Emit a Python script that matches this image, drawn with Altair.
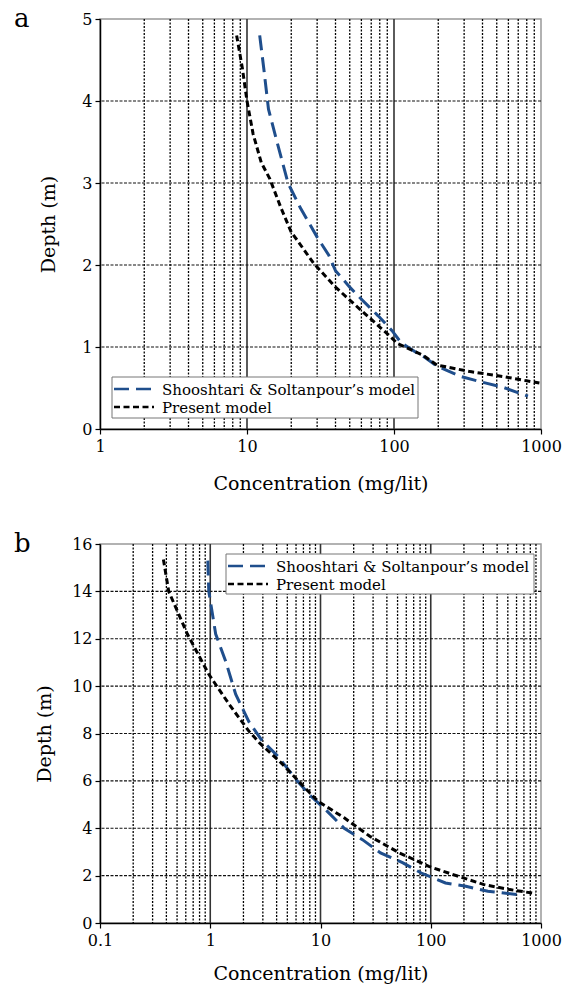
import altair as alt
import pandas as pd

SERIES = ["Shooshtari & Soltanpour\u2019s model", "Present model"]
COLORS = ["#1f4e8c", "#000000"]
DASHES = [[15, 7], [6, 3.5]]
FONT = "DejaVu Serif"

# ---- panel a ----
a_blue_conc = [12.2, 13.0, 14.0, 16.0, 19.0, 23.0, 30.0, 36.0, 40.0, 50.0, 61.0, 78.0, 97.0, 112.0, 140.0, 160.0, 195.0, 285.0, 400.0, 550.0, 815.0]
a_blue_depth = [4.8, 4.4, 3.9, 3.5, 3.0, 2.7, 2.34, 2.12, 1.93, 1.73, 1.57, 1.38, 1.2, 1.05, 0.94, 0.88, 0.77, 0.64, 0.57, 0.51, 0.40]
a_black_conc = [8.5, 9.3, 10.0, 11.0, 12.5, 14.3, 17.0, 20.0, 22.0, 28.4, 40.0, 63.0, 89.0, 106.0, 157.0, 196.0, 330.0, 550.0, 975.0]
a_black_depth = [4.8, 4.4, 4.0, 3.6, 3.25, 3.05, 2.7, 2.4, 2.3, 2.02, 1.73, 1.41, 1.17, 1.04, 0.9, 0.78, 0.70, 0.64, 0.56]

# ---- panel b ----
b_blue_conc = [0.95, 0.97, 1.12, 1.38, 1.7, 2.24, 2.9, 4.1, 6.0, 8.2, 11.1, 16.4, 24.0, 35.0, 56.0, 82.0, 136.0, 208.0, 330.0, 611.0]
b_blue_depth = [15.3, 14.0, 12.2, 11.05, 9.66, 8.5, 7.75, 7.04, 6.06, 5.35, 4.79, 4.0, 3.52, 2.96, 2.54, 2.11, 1.69, 1.55, 1.34, 1.2]
b_black_conc = [0.376, 0.42, 0.62, 0.97, 1.48, 2.24, 2.8, 4.4, 7.0, 9.5, 16.4, 28.0, 52.0, 96.0, 178.0, 305.0, 523.0, 897.0]
b_black_depth = [15.35, 14.0, 12.2, 10.5, 9.24, 8.1, 7.6, 6.76, 5.77, 5.14, 4.44, 3.66, 2.96, 2.39, 1.97, 1.62, 1.41, 1.24]

a_xticks = [1, 10, 100, 1000]
a_yticks = [0, 1, 2, 3, 4, 5]
b_xticks = [0.1, 1, 10, 100, 1000]
b_yticks = [0, 2, 4, 6, 8, 10, 12, 14, 16]


def minor_of(decades):
    return [m * d for d in decades for m in range(2, 10)]


def legend_layers(lx, ly, lw, lh):
    one = pd.DataFrame({"k": [0]})
    box = alt.Chart(one).mark_rect(fill="white", stroke="#777", strokeWidth=1).encode(
        x=alt.value(lx), x2=alt.value(lx + lw), y=alt.value(ly), y2=alt.value(ly + lh))
    layers = [box]
    row_h = 18
    for i, name in enumerate(SERIES):
        cy = ly + 12 + i * row_h
        layers.append(alt.Chart(one).mark_rule(color=COLORS[i], strokeWidth=2.5,
                                               strokeDash=DASHES[i], strokeCap="butt").encode(
            x=alt.value(lx + 2), x2=alt.value(lx + 42), y=alt.value(cy)))
        layers.append(alt.Chart(pd.DataFrame({"t": [name]})).mark_text(
            font=FONT, fontSize=15, align="left", baseline="middle", color="black").encode(
            text="t:N", x=alt.value(lx + 50), y=alt.value(cy + 1)))
    return layers


def panel(bc, bd, kc, kd, xticks, yticks, letter, leg, w, h, ytitlepad, xtitlepad):
    lines = pd.DataFrame({
        "conc": bc + kc,
        "depth": bd + kd,
        "series": [SERIES[0]] * len(bc) + [SERIES[1]] * len(kc),
        "idx": list(range(len(bc))) + list(range(len(kc))),
    })
    decades = xticks[:-1]
    minor = pd.DataFrame({"conc": minor_of(decades)})
    major = pd.DataFrame({"conc": xticks[1:-1]})
    hgrid = pd.DataFrame({"depth": yticks[1:-1]})

    xs = alt.Scale(type="log", domain=[xticks[0], xticks[-1]], nice=False)
    ys = alt.Scale(domain=[yticks[0], yticks[-1]], nice=False, zero=False)
    xax = alt.Axis(values=xticks, format=".4~g", title="Concentration (mg/lit)", grid=False,
                   tickSize=5, labelPadding=4, titlePadding=xtitlepad, labelFlush=False)
    yax = alt.Axis(values=yticks, format="d", title="Depth (m)", grid=False,
                   tickSize=5, labelPadding=3, titlePadding=ytitlepad, labelFlush=False)

    def X():
        return alt.X("conc:Q", scale=xs, axis=xax)

    def Y():
        return alt.Y("depth:Q", scale=ys, axis=yax)

    minor_l = alt.Chart(minor).mark_rule(color="#000", strokeWidth=1.3, strokeDash=[2, 1.5]).encode(x=X())
    major_l = alt.Chart(major).mark_rule(color="#333", strokeWidth=1.6).encode(x=X())
    hgrid_l = alt.Chart(hgrid).mark_rule(color="#111", strokeWidth=1.2, strokeDash=[3, 1.5]).encode(y=Y())
    curve = alt.Chart(lines).mark_line(strokeWidth=3, strokeCap="butt").encode(
        x=X(), y=Y(),
        order="idx:Q",
        color=alt.Color("series:N", scale=alt.Scale(domain=SERIES, range=COLORS), legend=None),
        strokeDash=alt.StrokeDash("series:N", scale=alt.Scale(domain=SERIES, range=DASHES), legend=None),
    )
    lab = alt.Chart(pd.DataFrame({"t": [letter]})).mark_text(
        font=FONT, fontSize=26, align="left", baseline="middle", color="black"
    ).encode(text="t:N", x=alt.value(-86), y=alt.value(0))
    return alt.layer(minor_l, major_l, hgrid_l, curve, *legend_layers(*leg), lab).properties(width=w, height=h)


top = panel(a_blue_conc, a_blue_depth, a_black_conc, a_black_depth, a_xticks, a_yticks,
            "a", (12, 358, 306, 41), 441, 410, 23, 20)
bot = panel(b_blue_conc, b_blue_depth, b_black_conc, b_black_depth, b_xticks, b_yticks,
            "b", (126, 10, 308, 40), 441, 379, 17, 16)

chart = alt.vconcat(top, bot, spacing=36).properties(
    padding={"left": 13, "top": 5, "right": 5, "bottom": 5}
).configure_axis(
    labelFont=FONT, titleFont=FONT, labelFontSize=16, titleFontSize=19,
    titleFontWeight="normal", labelColor="black", titleColor="black",
    domainColor="black", domainWidth=1.5, tickColor="black", tickWidth=1.2,
).configure_view(stroke="#999", strokeWidth=1.5)

chart.save("out.html", embed_options={"renderer": "svg", "actions": False})
